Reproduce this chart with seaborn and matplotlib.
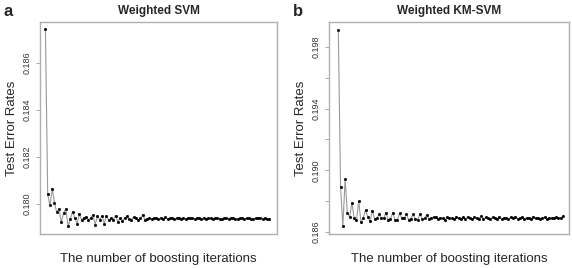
import numpy as np
import pandas as pd
import matplotlib
matplotlib.use("Agg")
import matplotlib.pyplot as plt
import seaborn as sns

# test error per boosting iteration
err_svm = [
    0.18743, 0.18041, 0.17994, 0.18066, 0.18004, 0.17966, 0.17980, 0.17922, 0.17961, 0.17980,
    0.17906, 0.17937, 0.17968, 0.17941, 0.17917, 0.17956, 0.17934, 0.17941, 0.17946, 0.17934,
    0.17941, 0.17955, 0.17913, 0.17948, 0.17934, 0.17951, 0.17917, 0.17951, 0.17931, 0.17939,
    0.17934, 0.17951, 0.17925, 0.17941, 0.17930, 0.17939, 0.17948, 0.17936, 0.17934, 0.17944,
    0.17941, 0.17932, 0.17939, 0.17955, 0.17934, 0.17937, 0.17939, 0.17936, 0.17941, 0.17939,
    0.17935, 0.17942, 0.17938, 0.17944, 0.17937, 0.17939, 0.17942, 0.17936, 0.17939, 0.17943,
    0.17938, 0.17940, 0.17937, 0.17941, 0.17939, 0.17940, 0.17935, 0.17939, 0.17940, 0.17938,
    0.17941, 0.17936, 0.17939, 0.17940, 0.17937, 0.17939, 0.17941, 0.17938, 0.17936, 0.17939,
    0.17940, 0.17938, 0.17941, 0.17939, 0.17935, 0.17938, 0.17940, 0.17939, 0.17937, 0.17940,
    0.17939, 0.17936, 0.17938, 0.17940, 0.17939, 0.17941, 0.17938, 0.17939, 0.17937, 0.17936,
]
err_kmsvm = [
    0.19909, 0.18894, 0.18636, 0.18941, 0.18722, 0.18696, 0.18791, 0.18690, 0.18675, 0.18799,
    0.18664, 0.18690, 0.18744, 0.18696, 0.18669, 0.18739, 0.18686, 0.18688, 0.18716, 0.18688,
    0.18690, 0.18726, 0.18679, 0.18686, 0.18726, 0.18679, 0.18679, 0.18720, 0.18690, 0.18688,
    0.18716, 0.18679, 0.18686, 0.18714, 0.18684, 0.18680, 0.18716, 0.18684, 0.18688, 0.18712,
    0.18684, 0.18688, 0.18698, 0.18694, 0.18686, 0.18692, 0.18688, 0.18680, 0.18696, 0.18688,
    0.18690, 0.18682, 0.18700, 0.18690, 0.18684, 0.18696, 0.18686, 0.18698, 0.18688, 0.18684,
    0.18694, 0.18690, 0.18686, 0.18704, 0.18684, 0.18694, 0.18690, 0.18682, 0.18696, 0.18690,
    0.18686, 0.18698, 0.18684, 0.18692, 0.18690, 0.18682, 0.18696, 0.18690, 0.18700, 0.18686,
    0.18690, 0.18694, 0.18682, 0.18692, 0.18690, 0.18686, 0.18700, 0.18688, 0.18692, 0.18684,
    0.18690, 0.18696, 0.18686, 0.18692, 0.18690, 0.18688, 0.18694, 0.18690, 0.18692, 0.18702,
]
iterations = list(range(1, len(err_svm) + 1))

ticks_svm = [0.180, 0.182, 0.184, 0.186]
labels_svm = ["0.180", "0.182", "0.184", "0.186"]
ticks_kmsvm = [0.186, 0.188, 0.190, 0.192, 0.194, 0.196, 0.198]
labels_kmsvm = ["0.186", "", "0.190", "", "0.194", "", "0.198"]

sns.set_style("white")
plt.rcParams['font.family'] = ['Liberation Sans', 'DejaVu Sans']

fig = plt.figure(figsize=(5.72, 2.68), dpi=100)

panels = [
    ("a", "Weighted SVM", err_svm, ticks_svm, labels_svm,
     [40 / 572, 34 / 268, 237 / 572, 212 / 268], (-1.4, 103.4), (0.17873, 0.18773)),
    ("b", "Weighted KM-SVM", err_kmsvm, ticks_kmsvm, labels_kmsvm,
     [329 / 572, 34 / 268, 240 / 572, 212 / 268], (-3.1, 102.7), (0.18587, 0.19961)),
]

for letter, title, vals, ticks, tlabels, rect, xlim, ylim in panels:
    ax = fig.add_axes(rect)
    df = pd.DataFrame({"iter": iterations, "err": vals})
    sns.lineplot(data=df, x="iter", y="err", ax=ax, color="#9a9a9a", linewidth=0.8,
                 marker="o", markersize=2.0, markerfacecolor="black",
                 markeredgecolor="black", markeredgewidth=0.2)
    ax.set_xlim(*xlim)
    ax.set_ylim(*ylim)
    ax.set_xticks([])
    ax.set_yticks(ticks)
    ax.set_yticklabels(tlabels, rotation=90, va="center", fontsize=6.5, color="#333333")
    ax.tick_params(axis="y", left=True, length=3, width=0.5, color="#888888", pad=3)
    for sp in ax.spines.values():
        sp.set_color("#b0b0b0")
        sp.set_linewidth(1.0)
    ax.set_xlabel("The number of boosting iterations", fontsize=9.5, labelpad=14)
    ax.set_ylabel("Test Error Rates", fontsize=9.5, labelpad=3)
    ax.set_title(title, fontsize=8.5, fontweight="bold", pad=6)
    fig.text(rect[0] - 36 / 572, 0.985, letter, fontsize=12, fontweight="bold",
             va="top", ha="left")

fig.savefig("out.png", dpi=100)
